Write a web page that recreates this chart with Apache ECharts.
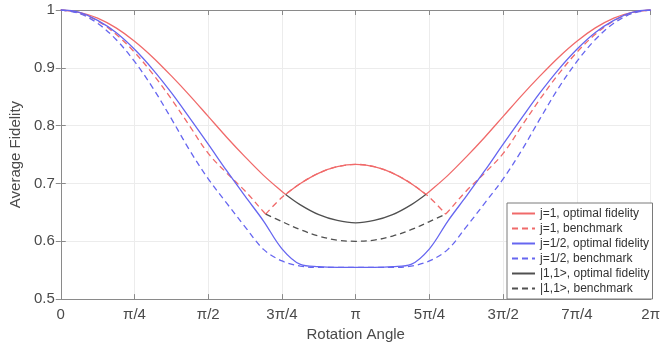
<!DOCTYPE html>
<html>
<head>
<meta charset="utf-8">
<script src="https://cdn.jsdelivr.net/npm/echarts@6/dist/echarts.min.js"></script>
<style>
  html, body { margin: 0; padding: 0; background: #fff; }
  #chart { width: 663px; height: 347px; }
</style>
</head>
<body>
<div id="chart"></div>
<script>
// angle in units of pi/4
const angles = [0, 0.25, 0.5, 0.75, 1, 1.25, 1.5, 1.75, 2, 2.25, 2.5, 2.75, 3, 3.25, 3.5, 3.75, 4,
  4.25, 4.5, 4.75, 5, 5.25, 5.5, 5.75, 6, 6.25, 6.5, 6.75, 7, 7.25, 7.5, 7.75, 8];
const xTickLabels = ['0', 'π/4', 'π/2', '3π/4', 'π', '5π/4', '3π/2', '7π/4', '2π'];
const yTickLabels = ['0.5', '0.6', '0.7', '0.8', '0.9', '1'];

const j1Optimal = [1.000, 0.996, 0.986, 0.969, 0.946, 0.918, 0.886, 0.852, 0.816, 0.780, 0.746, 0.714, 0.686, 0.700, 0.718, 0.729, 0.733,
  0.729, 0.718, 0.700, 0.686, 0.714, 0.746, 0.780, 0.816, 0.852, 0.886, 0.918, 0.946, 0.969, 0.986, 0.996, 1.000];
const j1OptimalKinks = [[3.05, 0.681], [4.95, 0.681]];

const j1Bench = [1.000, 0.995, 0.981, 0.958, 0.927, 0.889, 0.846, 0.799, 0.752, 0.718, 0.687, 0.651, 0.676, 0.700, 0.718, 0.729, 0.733,
  0.729, 0.718, 0.700, 0.676, 0.651, 0.687, 0.718, 0.752, 0.799, 0.846, 0.889, 0.927, 0.958, 0.981, 0.995, 1.000];
const j1BenchKinks = [[2.78, 0.647], [5.22, 0.647]];

const jHalfOptimal = [1.000, 0.996, 0.982, 0.961, 0.932, 0.897, 0.857, 0.813, 0.768, 0.722, 0.678, 0.635, 0.587, 0.560, 0.556, 0.555, 0.555,
  0.555, 0.556, 0.560, 0.587, 0.635, 0.678, 0.722, 0.768, 0.813, 0.857, 0.897, 0.932, 0.961, 0.982, 0.996, 1.000];

const jHalfBench = [1.000, 0.994, 0.977, 0.949, 0.911, 0.865, 0.812, 0.757, 0.708, 0.666, 0.625, 0.586, 0.566, 0.557, 0.555, 0.555, 0.555,
  0.555, 0.555, 0.557, 0.566, 0.586, 0.625, 0.666, 0.708, 0.757, 0.812, 0.865, 0.911, 0.949, 0.977, 0.994, 1.000];

const s11OptimalAngles = [3.05, 3.25, 3.5, 3.75, 4, 4.25, 4.5, 4.75, 4.95];
const s11Optimal = [0.681, 0.663, 0.646, 0.636, 0.632, 0.636, 0.646, 0.663, 0.681];

const s11BenchAngles = [2.78, 3, 3.25, 3.5, 3.75, 4, 4.25, 4.5, 4.75, 5, 5.22];
const s11Bench = [0.647, 0.634, 0.620, 0.609, 0.602, 0.600, 0.602, 0.609, 0.620, 0.634, 0.647];

const seriesNames = ['j=1, optimal fidelity', 'j=1, benchmark', 'j=1/2, optimal fidelity',
  'j=1/2, benchmark', '|1,1>, optimal fidelity', '|1,1>, benchmark'];

// pairs sorted by angle; at each kink the line is broken so smoothing keeps the corner sharp
const toPairs = (xs, ys, kinks) => {
  const pts = xs.map((x, i) => [x, ys[i]]).concat(kinks || []).sort((a, b) => a[0] - b[0]);
  const out = [];
  pts.forEach(p => {
    out.push(p);
    if (kinks && kinks.some(k => k[0] === p[0])) {
      out.push([p[0], null]);
      out.push(p);
    }
  });
  return out;
};

const red = '#f06a6a';
const blue = '#6666f0';
const black = '#505050';
const axisColor = '#8a8a8a';
const textColor = '#4a4a4a';
const font = 'Liberation Sans, Arial, sans-serif';

const line = (name, data, color, dashed) => ({
  name: name,
  type: 'line',
  data: data,
  smooth: 0.35,
  connectNulls: false,
  showSymbol: false,
  symbol: 'none',
  lineStyle: { color: color, width: 1.3, type: dashed ? [6, 4] : 'solid' },
  itemStyle: { color: color }
});

const myChart = echarts.init(document.getElementById('chart'));
myChart.setOption({
  animation: false,
  textStyle: { fontFamily: font },
  grid: { left: 56, right: 11, top: 10, bottom: 42 },
  legend: {
    orient: 'vertical',
    left: 507,
    top: 203,
    padding: [4, 3, 4, 4],
    itemWidth: 23,
    itemHeight: 10,
    itemGap: 2,
    itemStyle: { opacity: 0 },
    backgroundColor: '#fff',
    borderColor: '#7a7a7a',
    borderWidth: 1,
    borderRadius: 0,
    textStyle: { fontSize: 12, color: '#333', lineHeight: 13, fontFamily: font },
    data: seriesNames
  },
  xAxis: [{
    type: 'value', min: 0, max: 8, interval: 1,
    name: 'Rotation Angle', nameLocation: 'middle', nameGap: 20,
    nameTextStyle: { fontSize: 15, color: textColor },
    axisLine: { lineStyle: { color: axisColor } },
    axisTick: { inside: true, length: 5, lineStyle: { color: axisColor } },
    axisLabel: { fontSize: 15, color: textColor, margin: 8, formatter: v => xTickLabels[Math.round(v)] },
    splitLine: { lineStyle: { color: '#ececec' } }
  }, {
    type: 'value', min: 0, max: 8, interval: 1, position: 'top',
    axisLine: { lineStyle: { color: axisColor } },
    axisTick: { inside: true, length: 5, lineStyle: { color: axisColor } },
    axisLabel: { show: false },
    splitLine: { show: false }
  }],
  yAxis: [{
    type: 'value', min: 0.5, max: 1, interval: 0.1,
    name: 'Average Fidelity', nameLocation: 'middle', nameGap: 25,
    nameTextStyle: { fontSize: 15, color: textColor },
    axisLine: { show: true, lineStyle: { color: axisColor } },
    axisTick: { show: true, inside: true, length: 5, lineStyle: { color: axisColor } },
    axisLabel: { fontSize: 15, color: textColor, margin: 6, formatter: v => yTickLabels[Math.round((v - 0.5) * 10)] },
    splitLine: { lineStyle: { color: '#ececec' } }
  }, {
    type: 'value', min: 0.5, max: 1, interval: 0.1, position: 'right',
    axisLine: { show: true, lineStyle: { color: axisColor } },
    axisTick: { show: true, inside: true, length: 5, lineStyle: { color: axisColor } },
    axisLabel: { show: false },
    splitLine: { show: false }
  }],
  series: [
    line(seriesNames[0], toPairs(angles, j1Optimal, j1OptimalKinks), red, false),
    line(seriesNames[1], toPairs(angles, j1Bench, j1BenchKinks), red, true),
    line(seriesNames[2], toPairs(angles, jHalfOptimal), blue, false),
    line(seriesNames[3], toPairs(angles, jHalfBench), blue, true),
    line(seriesNames[4], toPairs(s11OptimalAngles, s11Optimal), black, false),
    line(seriesNames[5], toPairs(s11BenchAngles, s11Bench), black, true)
  ]
});
</script>
</body>
</html>
